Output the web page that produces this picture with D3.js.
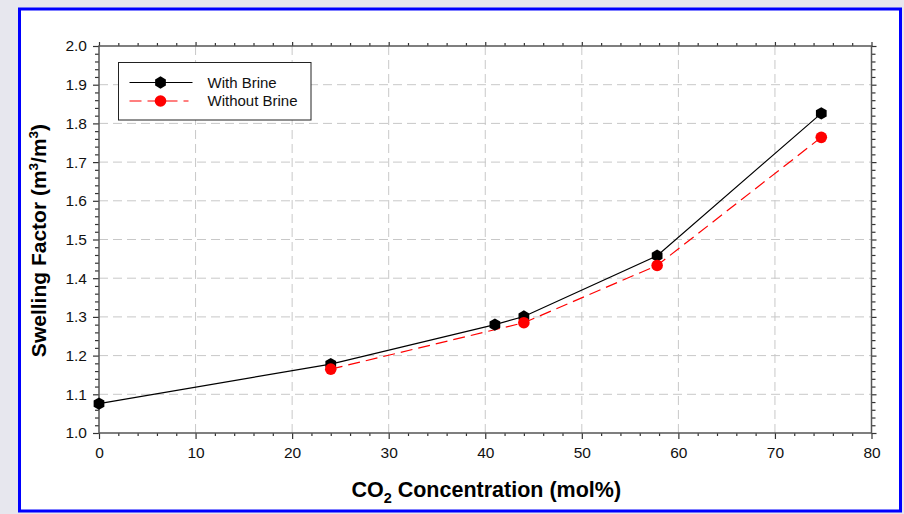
<!DOCTYPE html>
<html lang="en">
<head>
    <meta charset="UTF-8">
    <title>Swelling Factor vs CO2 Concentration</title>
    <script src="https://d3js.org/d3.v7.min.js"></script>
    <style>
        body { margin: 0; background: #e7e7ee; }
        svg { display: block; font-family: "Liberation Sans", Arial, sans-serif; }
        .axis-title { font-size: 21px; font-weight: bold; fill: #000; }
        .legend-text { font-size: 15px; fill: #111; }
    </style>
</head>
<body>
    <div id="chart"></div>
    <script>
        // data
        const withBrineX = [0, 24, 41, 44, 57.8, 74.8];
        const withBrineY = [1.076, 1.178, 1.280, 1.301, 1.458, 1.826];
        const withoutBrineX = [24, 44, 57.8, 74.8];
        const withoutBrineY = [1.165, 1.285, 1.433, 1.764];
        const xTicks = [0, 10, 20, 30, 40, 50, 60, 70, 80];
        const yTicks = [1.0, 1.1, 1.2, 1.3, 1.4, 1.5, 1.6, 1.7, 1.8, 1.9, 2.0];
        const seriesNames = ["With Brine", "Without Brine"];

        const W = 904, H = 514;
        const margin = {top: 46, right: 32.5, bottom: 81, left: 99};

        const svg = d3.select("#chart").append("svg")
            .attr("width", W)
            .attr("height", H);

        // blue frame
        svg.append("rect")
            .attr("x", 19.5).attr("y", 9)
            .attr("width", 881).attr("height", 502)
            .attr("fill", "#fff")
            .attr("stroke", "#0000ff")
            .attr("stroke-width", 3);

        const x = d3.scaleLinear().domain([0, 80]).range([margin.left, W - margin.right]);
        const y = d3.scaleLinear().domain([1, 2]).range([H - margin.bottom, margin.top]);

        const x0 = x.range()[0], x1 = x.range()[1];
        const y0 = y.range()[0], y1 = y.range()[1];

        // grid
        const grid = svg.append("g")
            .attr("stroke", "#c8c8c8")
            .attr("stroke-width", 1)
            .attr("stroke-dasharray", "9,5");
        grid.selectAll(".gx").data(xTicks.slice(1, -1)).enter().append("line")
            .attr("x1", d => x(d)).attr("x2", d => x(d))
            .attr("y1", y0).attr("y2", y1);
        grid.selectAll(".gy").data(yTicks.slice(1, -1)).enter().append("line")
            .attr("y1", d => y(d)).attr("y2", d => y(d))
            .attr("x1", x0).attr("x2", x1);

        // axes (all four sides)
        const xMinor = d3.range(0, 81, 2).filter(d => d % 10 !== 0);
        const yMinor = d3.range(0, 51).map(i => 1 + i * 0.02).filter((d, i) => i % 5 !== 0);

        const axisColor = "#333";
        const labelStyle = g => g.attr("font-size", 15.5)
            .attr("font-family", "'Liberation Sans', Arial, sans-serif")
            .selectAll("text").attr("fill", "#111");

        svg.append("g").attr("transform", `translate(0,${y0})`)
            .call(d3.axisBottom(x).tickValues(xTicks).tickSize(6).tickFormat(d3.format("d")))
            .call(g => g.select(".domain").remove())
            .call(labelStyle)
            .call(g => g.selectAll("text").attr("y", 14));
        svg.append("g").attr("transform", `translate(0,${y0})`)
            .call(d3.axisBottom(x).tickValues(xMinor).tickSize(3).tickFormat(""))
            .call(g => g.select(".domain").remove());
        svg.append("g").attr("transform", `translate(0,${y1})`)
            .call(d3.axisTop(x).tickValues(xTicks).tickSize(4).tickFormat(""))
            .call(g => g.select(".domain").remove());
        svg.append("g").attr("transform", `translate(0,${y1})`)
            .call(d3.axisTop(x).tickValues(xMinor).tickSize(3).tickFormat(""))
            .call(g => g.select(".domain").remove());

        svg.append("g").attr("transform", `translate(${x0},0)`)
            .call(d3.axisLeft(y).tickValues(yTicks).tickSize(6).tickFormat(d3.format(".1f")))
            .call(g => g.select(".domain").remove())
            .call(labelStyle)
            .call(g => g.selectAll("text").attr("x", -12));
        svg.append("g").attr("transform", `translate(${x0},0)`)
            .call(d3.axisLeft(y).tickValues(yMinor).tickSize(4).tickFormat(""))
            .call(g => g.select(".domain").remove());
        svg.append("g").attr("transform", `translate(${x1},0)`)
            .call(d3.axisRight(y).tickValues(yTicks).tickSize(5).tickFormat(""))
            .call(g => g.select(".domain").remove());
        svg.append("g").attr("transform", `translate(${x1},0)`)
            .call(d3.axisRight(y).tickValues(yMinor).tickSize(4).tickFormat(""))
            .call(g => g.select(".domain").remove());

        svg.selectAll(".tick line").attr("stroke", axisColor).attr("stroke-width", 1.2);

        svg.append("rect")
            .attr("x", x0).attr("y", y1)
            .attr("width", x1 - x0).attr("height", y0 - y1)
            .attr("fill", "none")
            .attr("stroke", "#555")
            .attr("stroke-width", 1.5);

        // series
        const withBrine = withBrineX.map((d, i) => [d, withBrineY[i]]);
        const withoutBrine = withoutBrineX.map((d, i) => [d, withoutBrineY[i]]);
        const line = d3.line().x(d => x(d[0])).y(d => y(d[1]));

        const hexagon = r => d3.range(6).map(i => {
            const a = Math.PI / 6 + i * Math.PI / 3;
            return [r * Math.cos(a), r * Math.sin(a)];
        });
        const hexPath = "M" + hexagon(6.2).join("L") + "Z";

        svg.append("path").datum(withoutBrine)
            .attr("d", line)
            .attr("fill", "none")
            .attr("stroke", "#ff0000")
            .attr("stroke-width", 1.2)
            .attr("stroke-dasharray", "12,6");

        svg.append("path").datum(withBrine)
            .attr("d", line)
            .attr("fill", "none")
            .attr("stroke", "#000")
            .attr("stroke-width", 1.2);

        svg.selectAll(".m-brine").data(withBrine).enter().append("path")
            .attr("transform", d => `translate(${x(d[0])},${y(d[1])})`)
            .attr("d", hexPath)
            .attr("fill", "#000");

        svg.selectAll(".m-nobrine").data(withoutBrine).enter().append("circle")
            .attr("cx", d => x(d[0]))
            .attr("cy", d => y(d[1]))
            .attr("r", 5.8)
            .attr("fill", "#ff0000");

        // legend
        const legend = svg.append("g").attr("transform", "translate(118.5,62.5)");
        legend.append("rect")
            .attr("width", 192.5).attr("height", 57.5)
            .attr("fill", "#fff")
            .attr("stroke", "#222")
            .attr("stroke-width", 1);
        const legendItems = legend.selectAll(".li").data(seriesNames).enter().append("g")
            .attr("transform", (d, i) => `translate(0,${20 + i * 18.5})`);
        legendItems.append("line")
            .attr("x1", 11).attr("x2", (d, i) => i ? 70 : 74)
            .attr("stroke", (d, i) => i ? "#ff0000" : "#000")
            .attr("stroke-width", 1.2)
            .attr("stroke-dasharray", (d, i) => i ? "12,6" : null);
        legendItems.each(function(d, i) {
            const g = d3.select(this);
            if (i === 0) {
                g.append("path").attr("transform", "translate(42,0)").attr("d", hexPath).attr("fill", "#000");
            } else {
                g.append("circle").attr("cx", 42).attr("r", 5.8).attr("fill", "#ff0000");
            }
        });
        legendItems.append("text")
            .attr("class", "legend-text")
            .attr("x", 89).attr("dy", "0.36em")
            .text(d => d);

        // axis titles
        const xt = svg.append("text")
            .attr("class", "axis-title")
            .attr("x", (x0 + x1) / 2 + 1)
            .attr("y", 497)
            .attr("text-anchor", "middle")
            .style("font-size", "21.5px");
        xt.append("tspan").text("CO");
        xt.append("tspan").attr("dy", 6).style("font-size", "14.5px").text("2");
        xt.append("tspan").attr("dy", -6).text(" Concentration (mol%)");

        const yt = svg.append("text")
            .attr("class", "axis-title")
            .attr("transform", `translate(46,${(y0 + y1) / 2 + 1}) rotate(-90)`)
            .attr("text-anchor", "middle");
        yt.append("tspan").text("Swelling Factor (m");
        yt.append("tspan").attr("dy", -8).style("font-size", "13.5px").text("3");
        yt.append("tspan").attr("dy", 8).text("/m");
        yt.append("tspan").attr("dy", -8).style("font-size", "13.5px").text("3");
        yt.append("tspan").attr("dy", 8).text(")");
    </script>
</body>
</html>
